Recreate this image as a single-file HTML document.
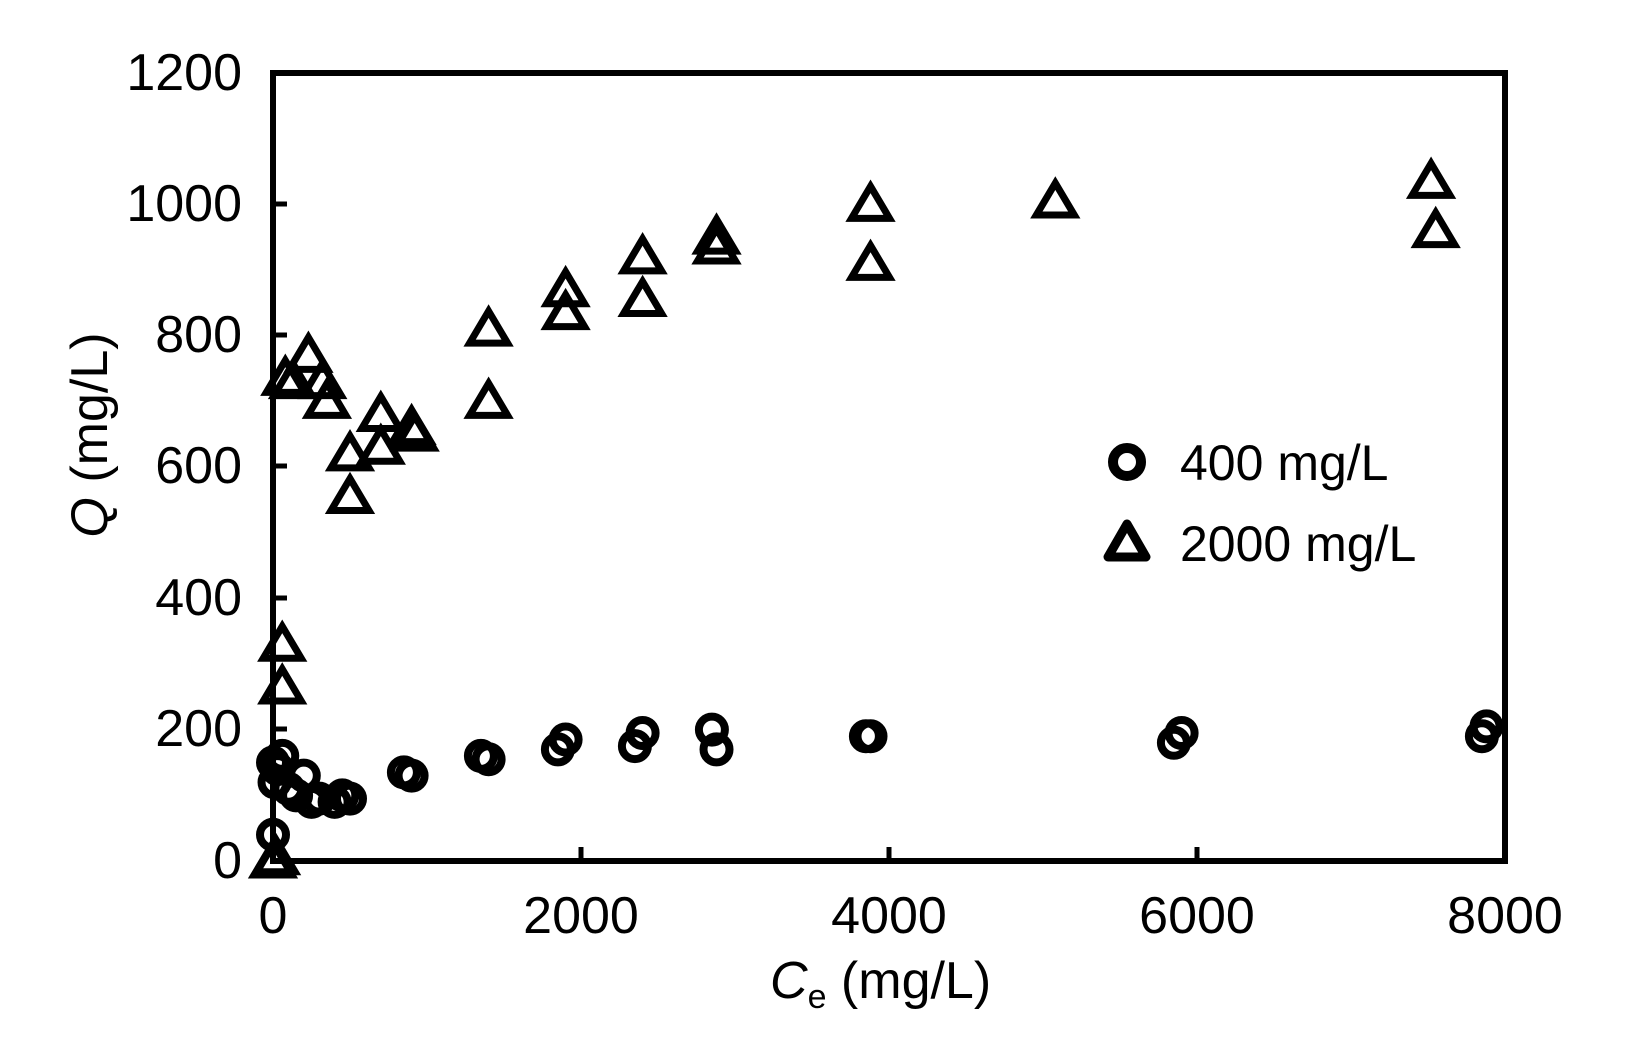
<!DOCTYPE html>
<html><head><meta charset="utf-8"><style>html,body{margin:0;padding:0;background:#fff}svg{display:block}</style></head>
<body>
<svg id="s" width="1632" height="1060" xmlns="http://www.w3.org/2000/svg" font-family="Liberation Sans, Arial, sans-serif">
<rect x="0" y="0" width="1632" height="1060" fill="#fff"/>
<g id="pts"></g>
<rect x="273" y="73" width="1232" height="788" fill="none" stroke="#000" stroke-width="6"/>
<g stroke="#000" stroke-width="5">
<line x1="581" y1="861" x2="581" y2="847"/><line x1="889" y1="861" x2="889" y2="847"/><line x1="1197" y1="861" x2="1197" y2="847"/>
<line x1="273" y1="729" x2="287" y2="729"/><line x1="273" y1="598" x2="287" y2="598"/><line x1="273" y1="466" x2="287" y2="466"/><line x1="273" y1="335" x2="287" y2="335"/><line x1="273" y1="204" x2="287" y2="204"/>
</g>
<g font-size="52" text-anchor="end">
<text x="242" y="90">1200</text><text x="242" y="221">1000</text><text x="242" y="352">800</text><text x="242" y="483">600</text><text x="242" y="615">400</text><text x="242" y="746">200</text><text x="242" y="878">0</text>
</g>
<g font-size="52" text-anchor="middle">
<text x="273" y="933">0</text><text x="581" y="933">2000</text><text x="889" y="933">4000</text><text x="1197" y="933">6000</text><text x="1505" y="933">8000</text>
</g>
<text x="770" y="998" font-size="52"><tspan font-style="italic">C</tspan><tspan font-size="34" dy="10">e</tspan><tspan dy="-10"> (mg/L)</tspan></text>
<text transform="translate(107,435) rotate(-90)" font-size="52" text-anchor="middle"><tspan font-style="italic">Q</tspan> (mg/L)</text>
<circle cx="1127" cy="462" r="14" fill="none" stroke="#000" stroke-width="10"/>
<polygon points="1127,524 1146,557 1108,557" fill="none" stroke="#000" stroke-width="9" stroke-linejoin="round"/>
<text x="1180" y="480" font-size="50">400 mg/L</text>
<text x="1180" y="561" font-size="50">2000 mg/L</text>
</svg>
<script>
var X=function(v){return 273+v*1232/8000},Y=function(v){return 861-v*788/1200};
var tri=[[0,0],[20,5],[60,330],[60,265],[80,735],[130,730],[230,770],[320,730],[350,700],[500,620],[500,555],[700,680],[700,630],[900,660],[920,650],[1400,810],[1400,700],[1900,870],[1900,835],[2400,920],[2400,855],[2880,950],[2880,935],[3880,1000],[3880,910],[5080,1005],[7520,1035],[7550,960]];
var cir=[[0,40],[0,150],[10,120],[30,140],[60,160],[100,110],[150,100],[200,130],[250,90],[300,95],[400,90],[450,100],[500,95],[850,135],[900,130],[1350,160],[1400,155],[1850,170],[1900,185],[2350,175],[2400,195],[2850,200],[2880,170],[3850,190],[3880,190],[5850,180],[5900,195],[7850,190],[7880,205]];
var h='';
cir.forEach(function(p){h+='<circle cx="'+X(p[0])+'" cy="'+Y(p[1])+'" r="13" fill="none" stroke="#000" stroke-width="8"/>';});
tri.forEach(function(p){var x=X(p[0]),y=Y(p[1]);h+='<polygon points="'+x+','+(y-18)+' '+(x+19)+','+(y+14)+' '+(x-19)+','+(y+14)+'" fill="none" stroke="#000" stroke-width="7"/>';});
document.getElementById('pts').innerHTML=h;
</script>
</body></html>
